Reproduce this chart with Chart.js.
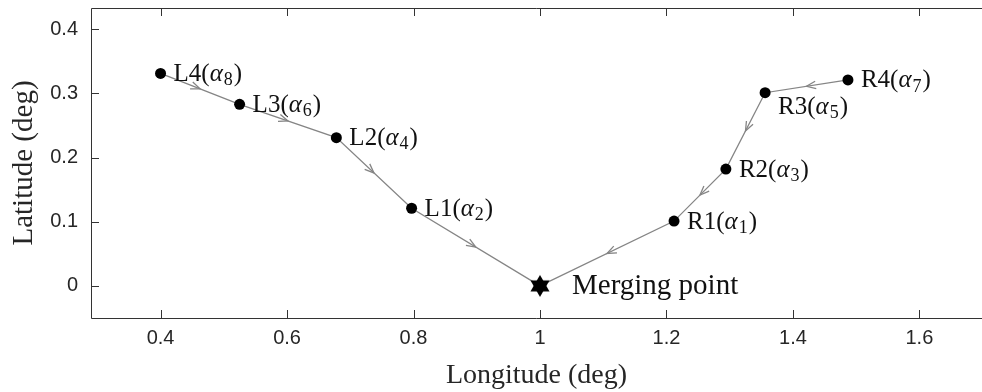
<!DOCTYPE html>
<html>
<head>
<meta charset="utf-8">
<script src="https://cdn.jsdelivr.net/npm/chart.js@4.4.0/dist/chart.umd.min.js"></script>
<style>
    html, body { margin: 0; padding: 0; background: #fff; }
    #wrap { width: 982px; height: 392px; }
</style>
</head>
<body>
<div id="wrap"><canvas id="routeChart"></canvas></div>
<script>
// Route points (deg)
const leftLon = [0.40, 0.525, 0.678, 0.797, 1.0];
const leftLat = [0.331, 0.283, 0.231, 0.121, 0.0];
const leftNames = ['L4', 'L3', 'L2', 'L1'];
const leftAlpha = [8, 6, 4, 2];

const rightLon = [1.487, 1.356, 1.294, 1.212, 1.0];
const rightLat = [0.321, 0.301, 0.182, 0.101, 0.0];
const rightNames = ['R4', 'R3', 'R2', 'R1'];
const rightAlpha = [7, 5, 3, 1];

const mergeLon = [1.0];
const mergeLat = [0.0];
const mergeName = 'Merging point';

const xTicks = [0.4, 0.6, 0.8, 1, 1.2, 1.4, 1.6];
const yTicks = [0, 0.1, 0.2, 0.3, 0.4];

const LINE_GRAY = '#858585';
const AXIS_COLOR = '#333333';
const SERIF = '"Liberation Serif", "DejaVu Serif", serif';

function toPoints(xs, ys) {
    return xs.map((x, i) => ({ x: x, y: ys[i] }));
}

// filled six-pointed star used as the merging point marker
function makeStar(r) {
    const c = document.createElement('canvas');
    const s = Math.ceil(r * 2 + 2);
    c.width = s;
    c.height = s;
    const g = c.getContext('2d');
    g.fillStyle = '#000';
    for (let k = 0; k < 2; k++) {
        g.beginPath();
        for (let i = 0; i < 3; i++) {
            const a = -Math.PI / 2 + k * Math.PI + i * 2 * Math.PI / 3;
            const px = s / 2 + r * Math.cos(a);
            const py = s / 2 + r * Math.sin(a);
            if (i === 0) g.moveTo(px, py); else g.lineTo(px, py);
        }
        g.closePath();
        g.fill();
    }
    return c;
}

// arrowheads half way along every segment, pointing towards the merge
const arrowPlugin = {
    id: 'arrows',
    afterDatasetsDraw(chart) {
        const xs = chart.scales.x, ys = chart.scales.y;
        const ctx = chart.ctx;
        ctx.save();
        ctx.strokeStyle = LINE_GRAY;
        ctx.lineWidth = 1.3;
        [[leftLon, leftLat], [rightLon, rightLat]].forEach(([lon, lat]) => {
            for (let i = 0; i < lon.length - 1; i++) {
                const x0 = xs.getPixelForValue(lon[i]), y0 = ys.getPixelForValue(lat[i]);
                const x1 = xs.getPixelForValue(lon[i + 1]), y1 = ys.getPixelForValue(lat[i + 1]);
                const mx = (x0 + x1) / 2, my = (y0 + y1) / 2;
                const ang = Math.atan2(y1 - y0, x1 - x0);
                const len = 10, spread = 0.38;
                ctx.beginPath();
                ctx.moveTo(mx - len * Math.cos(ang - spread), my - len * Math.sin(ang - spread));
                ctx.lineTo(mx, my);
                ctx.lineTo(mx - len * Math.cos(ang + spread), my - len * Math.sin(ang + spread));
                ctx.stroke();
            }
        });
        ctx.restore();
    }
};

function drawAlphaLabel(ctx, x, y, name, sub, size) {
    ctx.textAlign = 'left';
    ctx.textBaseline = 'middle';
    ctx.font = size + 'px ' + SERIF;
    ctx.fillText(name + '(', x, y);
    x += ctx.measureText(name + '(').width;
    ctx.font = 'italic ' + size + 'px ' + SERIF;
    ctx.fillText('\u03b1', x, y);
    x += ctx.measureText('\u03b1').width + 1;
    const subSize = Math.round(size * 0.7);
    ctx.font = subSize + 'px ' + SERIF;
    ctx.fillText(String(sub), x, y + size * 0.24);
    x += ctx.measureText(String(sub)).width + 1;
    ctx.font = size + 'px ' + SERIF;
    ctx.fillText(')', x, y);
}

const labelPlugin = {
    id: 'pointLabels',
    afterDatasetsDraw(chart) {
        const xs = chart.scales.x, ys = chart.scales.y;
        const ctx = chart.ctx;
        ctx.save();
        ctx.fillStyle = '#111';
        leftNames.forEach((n, i) => {
            drawAlphaLabel(ctx, xs.getPixelForValue(leftLon[i]) + 13,
                ys.getPixelForValue(leftLat[i]) + 1, n, leftAlpha[i], 25);
        });
        rightNames.forEach((n, i) => {
            // R3 sits below-right of its dot
            const dy = n === 'R3' ? 15 : 1;
            drawAlphaLabel(ctx, xs.getPixelForValue(rightLon[i]) + 13,
                ys.getPixelForValue(rightLat[i]) + dy, n, rightAlpha[i], 25);
        });
        ctx.font = '29px ' + SERIF;
        ctx.textBaseline = 'middle';
        ctx.fillText(mergeName, xs.getPixelForValue(mergeLon[0]) + 32, ys.getPixelForValue(mergeLat[0]));
        ctx.restore();
    }
};

// MATLAB style box with inward ticks
const boxPlugin = {
    id: 'box',
    afterDraw(chart) {
        const a = chart.chartArea;
        const xs = chart.scales.x, ys = chart.scales.y;
        const ctx = chart.ctx;
        const tl = 8;
        ctx.save();
        ctx.strokeStyle = AXIS_COLOR;
        ctx.lineWidth = 1;
        ctx.beginPath();
        ctx.moveTo(a.right, a.top + 0.5);
        ctx.lineTo(a.left + 0.5, a.top + 0.5);
        ctx.lineTo(a.left + 0.5, a.bottom + 0.5);
        ctx.lineTo(a.right, a.bottom + 0.5);
        xTicks.forEach(v => {
            const px = Math.round(xs.getPixelForValue(v)) + 0.5;
            ctx.moveTo(px, a.bottom);
            ctx.lineTo(px, a.bottom - tl);
            ctx.moveTo(px, a.top);
            ctx.lineTo(px, a.top + tl);
        });
        yTicks.forEach(v => {
            const py = Math.round(ys.getPixelForValue(v)) + 0.5;
            ctx.moveTo(a.left, py);
            ctx.lineTo(a.left + tl, py);
        });
        ctx.stroke();
        ctx.restore();
    }
};

function fmtTick(v) {
    return String(Math.round(v * 100) / 100);
}

const ctx = document.getElementById('routeChart');
new Chart(ctx.getContext('2d'), {
    type: 'scatter',
    data: {
        datasets: [{
            label: 'Merge',
            data: toPoints(mergeLon, mergeLat),
            pointStyle: makeStar(11),
            showLine: false
        }, {
            label: 'Left',
            data: toPoints(leftLon, leftLat),
            showLine: true,
            borderColor: LINE_GRAY,
            borderWidth: 1.3,
            pointRadius: leftLon.map((v, i) => i < leftNames.length ? 5.5 : 0),
            pointBackgroundColor: '#000',
            pointBorderColor: '#000',
            pointBorderWidth: 0
        }, {
            label: 'Right',
            data: toPoints(rightLon, rightLat),
            showLine: true,
            borderColor: LINE_GRAY,
            borderWidth: 1.3,
            pointRadius: rightLon.map((v, i) => i < rightNames.length ? 5.5 : 0),
            pointBackgroundColor: '#000',
            pointBorderColor: '#000',
            pointBorderWidth: 0
        }]
    },
    options: {
        responsive: true,
        maintainAspectRatio: false,
        animation: false,
        layout: { autoPadding: false, padding: { top: 8, left: 0, right: 0, bottom: 0 } },
        plugins: {
            legend: { display: false },
            tooltip: { enabled: false }
        },
        scales: {
            x: {
                type: 'linear',
                min: 0.29,
                max: 1.699,
                grid: { display: false, drawTicks: false },
                border: { display: false },
                afterFit: s => {
                    s.height = 74;
                    s.paddingLeft = 0;
                    s.paddingRight = 0;
                },
                afterBuildTicks: s => { s.ticks = xTicks.map(v => ({ value: v })); },
                ticks: {
                    padding: 8,
                    maxRotation: 0,
                    autoSkip: false,
                    color: '#262626',
                    font: { family: 'Liberation Sans', size: 20 },
                    callback: v => fmtTick(v)
                },
                title: {
                    display: true,
                    text: 'Longitude (deg)',
                    color: '#262626',
                    font: { family: 'Liberation Serif', size: 28 },
                    padding: 0
                }
            },
            y: {
                type: 'linear',
                min: -0.05,
                max: 0.433,
                grid: { display: false, drawTicks: false },
                border: { display: false },
                afterFit: s => {
                    s.width = 91;
                    s.paddingTop = 0;
                    s.paddingBottom = 0;
                },
                afterBuildTicks: s => { s.ticks = yTicks.map(v => ({ value: v })); },
                ticks: {
                    padding: 13,
                    color: '#262626',
                    font: { family: 'Liberation Sans', size: 20 },
                    callback: v => fmtTick(v)
                },
                title: {
                    display: true,
                    text: 'Latitude (deg)',
                    color: '#262626',
                    font: { family: 'Liberation Serif', size: 29 },
                    padding: 7
                }
            }
        }
    },
    plugins: [arrowPlugin, labelPlugin, boxPlugin]
});
</script>
</body>
</html>
